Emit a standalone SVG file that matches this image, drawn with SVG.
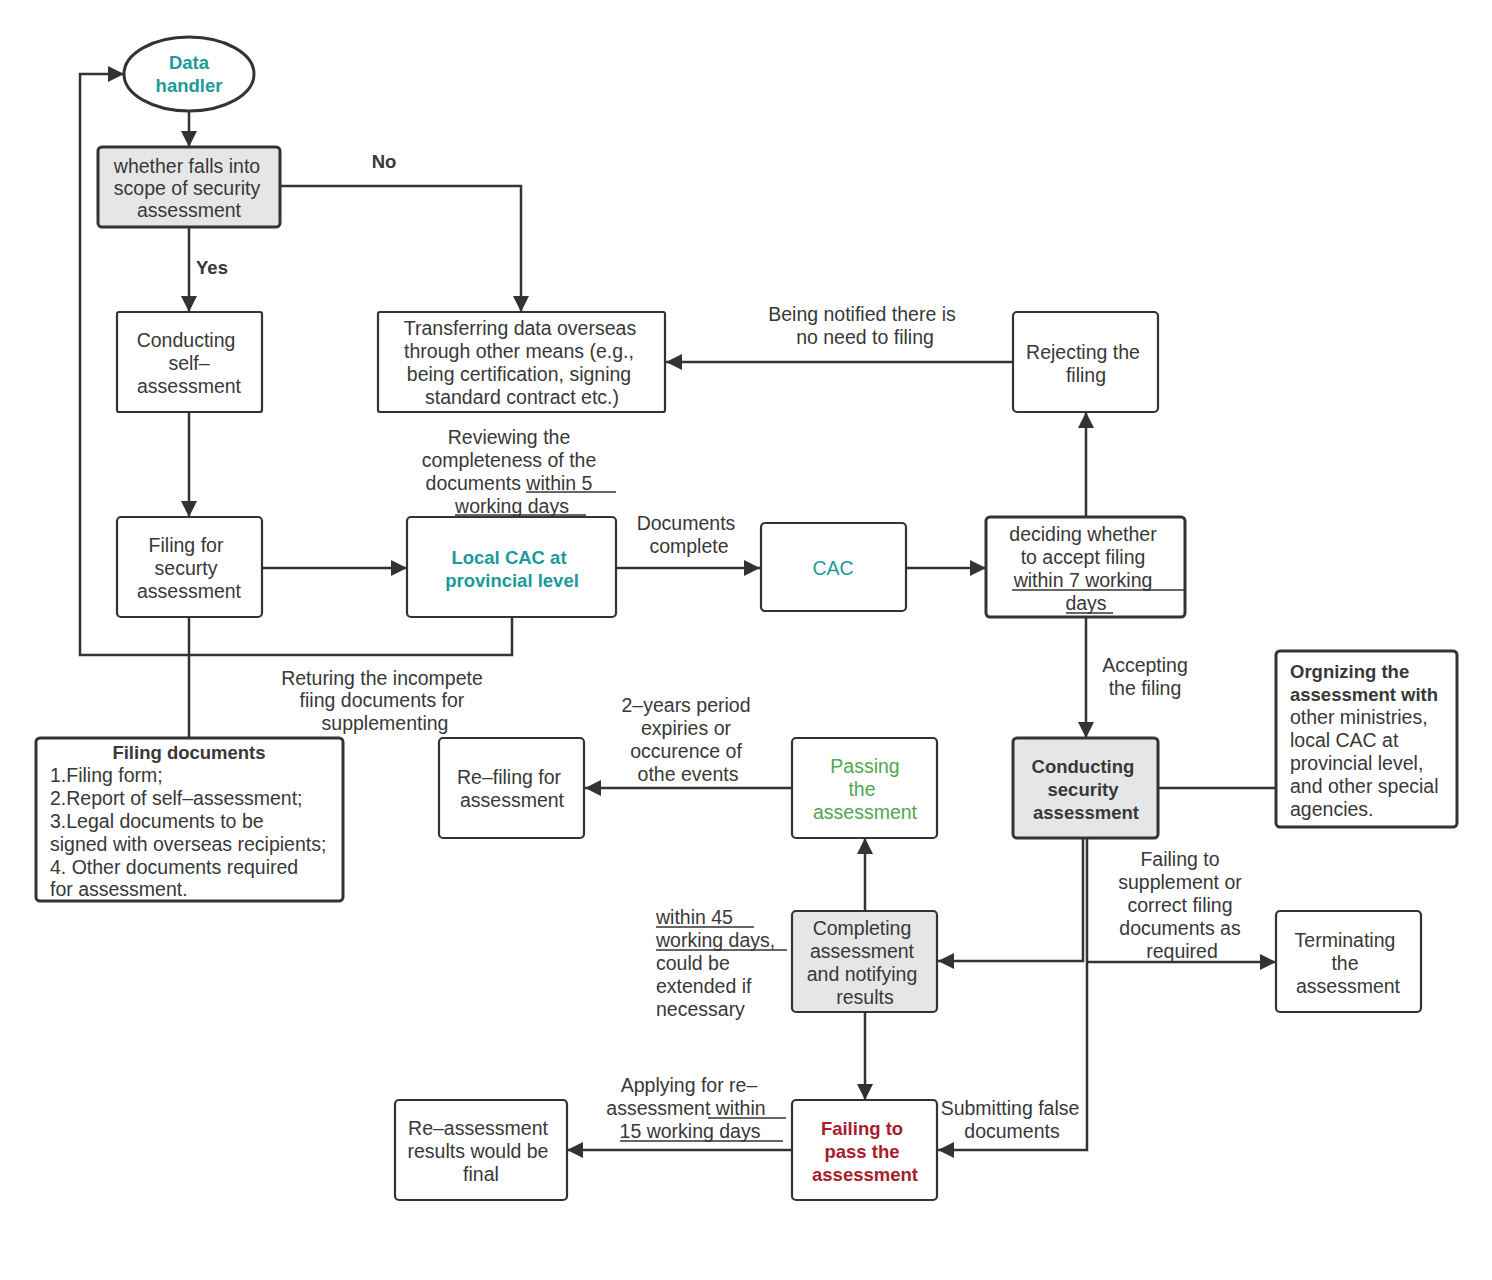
<svg xmlns="http://www.w3.org/2000/svg" width="1492" height="1280" viewBox="0 0 1492 1280">
<defs>
<marker id="ah" viewBox="0 0 10 10" refX="10" refY="5" markerWidth="16" markerHeight="16" markerUnits="userSpaceOnUse" orient="auto">
<path d="M0,0 L10,5 L0,10 z" fill="#333"/>
</marker>
</defs>
<style>
text{font-family:"Liberation Sans",Arial,sans-serif;font-size:19.5px;fill:#383838;text-anchor:middle}
.l{text-anchor:start}
.b{font-weight:bold;font-size:18.5px}
.teal{fill:#1c9a9a}
.green{fill:#4fa84f}
.red{fill:#a81c2c}
.box{fill:#fff;stroke:#333;stroke-width:2.2}
.thick{stroke-width:3}
.gray{fill:#e6e6e6}
.c{fill:none;stroke:#333;stroke-width:2.5}
.a{marker-end:url(#ah)}
.u{stroke:#333;stroke-width:1.3}
</style>
<rect width="1492" height="1280" fill="#fff"/>

<g id="connectors">
<path class="c a" d="M189,111 V147"/>
<path class="c a" d="M280,186 H521 V312"/>
<path class="c a" d="M189,227 V312"/>
<path class="c a" d="M1013,362 H666"/>
<path class="c a" d="M189,412 V517"/>
<path class="c a" d="M262,568 H407"/>
<path class="c a" d="M616,568 H760"/>
<path class="c a" d="M906,568 H986"/>
<path class="c a" d="M1086,517 V412"/>
<path class="c a" d="M1086,617 V738"/>
<path class="c a" d="M512,617 V655 H80 V74 H124"/>
<path class="c" d="M189,617 V738"/>
<path class="c" d="M1158,788 H1276"/>
<path class="c a" d="M792,788 H585"/>
<path class="c a" d="M865,911 V838"/>
<path class="c a" d="M1083,838 V961 H938"/>
<path class="c a" d="M1087,838 V1150 H938"/>
<path class="c a" d="M1087,962 H1276"/>
<path class="c a" d="M865,1012 V1100"/>
<path class="c a" d="M792,1150 H567"/>
</g>

<g id="labels">
<text x="384" y="168" class="b">No</text>
<text x="212" y="274" class="b">Yes</text>
<text x="862" y="321">Being notified there is</text>
<text x="865" y="344">no need to filing</text>
<text x="509" y="444">Reviewing the</text>
<text x="509" y="467">completeness of the</text>
<text x="509" y="490">documents within 5</text>
<text x="512" y="513">working days</text>
<line class="u" x1="526" y1="492" x2="616" y2="492"/>
<line class="u" x1="455" y1="515" x2="586" y2="515"/>
<text x="686" y="530">Documents</text>
<text x="689" y="553">complete</text>
<text x="1145" y="672">Accepting</text>
<text x="1145" y="695">the filing</text>
<text x="382" y="685">Returing the incompete</text>
<text x="382" y="707">fiing documents for</text>
<text x="385" y="730">supplementing</text>
<text x="686" y="712">2–years period</text>
<text x="686" y="735">expiries or</text>
<text x="686" y="758">occurence of</text>
<text x="688" y="781">othe events</text>
<text x="656" y="924" class="l">within 45</text>
<text x="656" y="947" class="l">working days,</text>
<text x="656" y="970" class="l">could be</text>
<text x="656" y="993" class="l">extended if</text>
<text x="656" y="1016" class="l">necessary</text>
<line class="u" x1="656" y1="927" x2="754" y2="927"/>
<line class="u" x1="656" y1="950" x2="787" y2="950"/>
<text x="1180" y="866">Failing to</text>
<text x="1180" y="889">supplement or</text>
<text x="1180" y="912">correct filing</text>
<text x="1180" y="935">documents as</text>
<text x="1182" y="958">required</text>
<text x="689" y="1092">Applying for re–</text>
<text x="686" y="1115">assessment within</text>
<text x="690" y="1138">15 working days</text>
<line class="u" x1="708" y1="1118" x2="786" y2="1118"/>
<line class="u" x1="620" y1="1141" x2="783" y2="1141"/>
<text x="1010" y="1115">Submitting false</text>
<text x="1012" y="1138">documents</text>
</g>

<g id="data-handler">
<ellipse cx="189" cy="74" rx="65" ry="37" fill="#fff" stroke="#333" stroke-width="3"/>
<text x="189" y="69" class="teal b">Data</text>
<text x="189" y="92" class="teal b">handler</text>
</g>

<g id="whether">
<rect x="98" y="147" width="182" height="80" rx="4" class="box gray thick"/>
<text x="187" y="173">whether falls into</text>
<text x="187" y="195">scope of security</text>
<text x="189" y="217">assessment</text>
</g>

<g id="self-assessment">
<rect x="117" y="312" width="145" height="100" rx="2" class="box"/>
<text x="186" y="347">Conducting</text>
<text x="189" y="370">self–</text>
<text x="189" y="393">assessment</text>
</g>

<g id="transferring">
<rect x="378" y="312" width="287" height="100" rx="2" class="box"/>
<text x="520" y="335">Transferring data overseas</text>
<text x="519" y="358">through other means (e.g.,</text>
<text x="519" y="381">being certification, signing</text>
<text x="522" y="404">standard contract etc.)</text>
</g>

<g id="rejecting">
<rect x="1013" y="312" width="145" height="100" rx="4" class="box"/>
<text x="1083" y="359">Rejecting the</text>
<text x="1086" y="382">filing</text>
</g>

<g id="filing-for">
<rect x="117" y="517" width="145" height="100" rx="4" class="box"/>
<text x="186" y="552">Filing for</text>
<text x="186" y="575">securty</text>
<text x="189" y="598">assessment</text>
</g>

<g id="local-cac">
<rect x="407" y="517" width="209" height="100" rx="4" class="box"/>
<text x="509" y="564" class="teal b">Local CAC at</text>
<text x="512" y="587" class="teal b">provincial level</text>
</g>

<g id="cac">
<rect x="761" y="523" width="145" height="88" rx="4" class="box"/>
<text x="833" y="575" class="teal">CAC</text>
</g>

<g id="deciding">
<rect x="986" y="517" width="199" height="100" rx="4" class="box thick"/>
<text x="1083" y="541">deciding whether</text>
<text x="1083" y="564">to accept filing</text>
<text x="1083" y="587">within 7 working</text>
<text x="1086" y="610">days</text>
<line class="u" x1="1012" y1="590" x2="1185" y2="590"/>
<line class="u" x1="1066" y1="613" x2="1113" y2="613"/>
</g>

<g id="filing-documents">
<rect x="36" y="738" width="307" height="163" rx="4" class="box thick"/>
<text x="189" y="759" class="b">Filing documents</text>
<text x="50" y="782" class="l">1.Filing form;</text>
<text x="50" y="805" class="l">2.Report of self–assessment;</text>
<text x="50" y="828" class="l">3.Legal documents to be</text>
<text x="50" y="851" class="l">signed with overseas recipients;</text>
<text x="50" y="874" class="l">4. Other documents required</text>
<text x="50" y="896" class="l">for assessment.</text>
</g>

<g id="refiling">
<rect x="439" y="738" width="145" height="100" rx="4" class="box"/>
<text x="509" y="784">Re–filing for</text>
<text x="512" y="807">assessment</text>
</g>

<g id="passing">
<rect x="792" y="738" width="145" height="100" rx="4" class="box"/>
<text x="865" y="773" class="green">Passing</text>
<text x="862" y="796" class="green">the</text>
<text x="865" y="819" class="green">assessment</text>
</g>

<g id="conducting-security">
<rect x="1013" y="738" width="145" height="100" rx="4" class="box gray thick"/>
<text x="1083" y="773" class="b">Conducting</text>
<text x="1083" y="796" class="b">security</text>
<text x="1086" y="819" class="b">assessment</text>
</g>

<g id="orgnizing">
<rect x="1276" y="651" width="181" height="176" rx="4" class="box thick"/>
<text x="1290" y="678" class="l b">Orgnizing the</text>
<text x="1290" y="701" class="l b">assessment with</text>
<text x="1290" y="724" class="l">other ministries,</text>
<text x="1290" y="747" class="l">local CAC at</text>
<text x="1290" y="770" class="l">provincial level,</text>
<text x="1290" y="793" class="l">and other special</text>
<text x="1290" y="816" class="l">agencies.</text>
</g>

<g id="completing">
<rect x="792" y="911" width="145" height="101" rx="4" class="box gray"/>
<text x="862" y="935">Completing</text>
<text x="862" y="958">assessment</text>
<text x="862" y="981">and notifying</text>
<text x="865" y="1004">results</text>
</g>

<g id="terminating">
<rect x="1276" y="911" width="145" height="101" rx="4" class="box"/>
<text x="1345" y="947">Terminating</text>
<text x="1345" y="970">the</text>
<text x="1348" y="993">assessment</text>
</g>

<g id="failing">
<rect x="792" y="1100" width="145" height="100" rx="4" class="box"/>
<text x="862" y="1135" class="red b">Failing to</text>
<text x="862" y="1158" class="red b">pass the</text>
<text x="865" y="1181" class="red b">assessment</text>
</g>

<g id="reassessment">
<rect x="395" y="1100" width="172" height="100" rx="4" class="box"/>
<text x="478" y="1135">Re–assessment</text>
<text x="478" y="1158">results would be</text>
<text x="481" y="1181">final</text>
</g>
</svg>
